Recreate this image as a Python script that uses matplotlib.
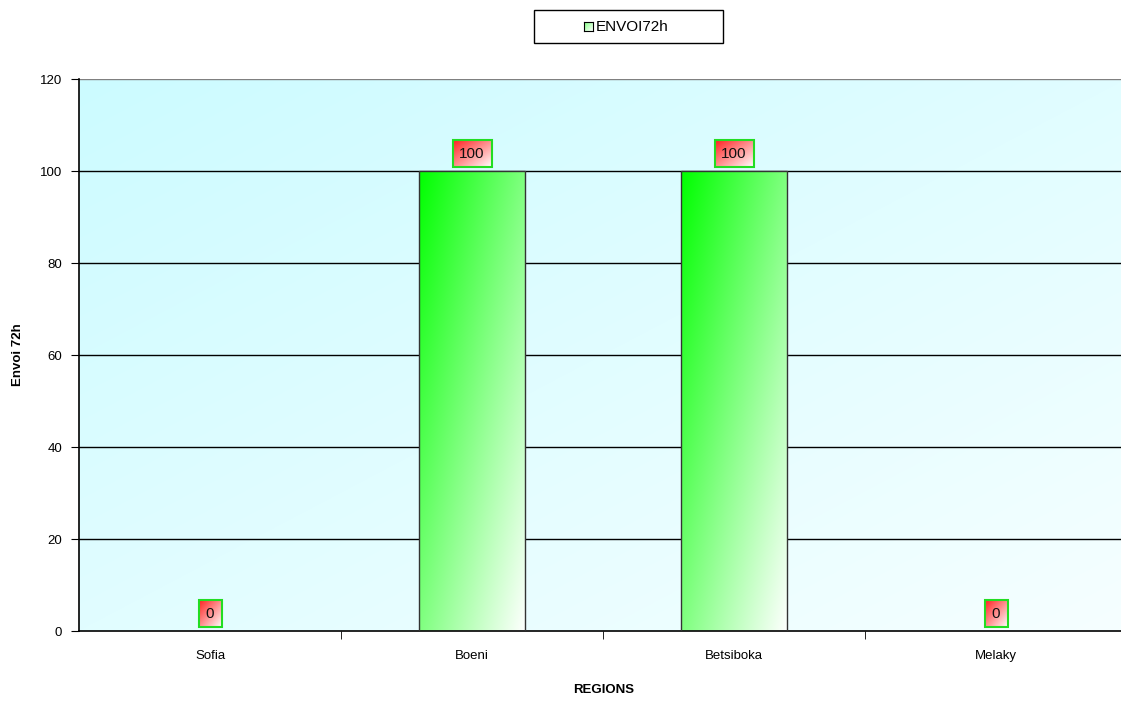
import numpy as np
import matplotlib
matplotlib.use("Agg")
import matplotlib.pyplot as plt
from matplotlib.patches import Rectangle

plt.rcParams['font.family'] = ['Liberation Sans', 'DejaVu Sans']

categories = ["Sofia", "Boeni", "Betsiboka", "Melaky"]
values = [0, 100, 100, 0]
yticks = [0, 20, 40, 60, 80, 100, 120]
series_name = "ENVOI72h"

W, H = 1121, 707
fig = plt.figure(figsize=(W / 100, H / 100), dpi=100)
left, right, top, bottom = 79, 1127, 79, 631
ax = fig.add_axes([left / W, 1 - bottom / H, (right - left) / W, (bottom - top) / H])
ax.set_xlim(-0.5, len(categories) - 0.5)
ax.set_ylim(0, 120)


def diag_grad(c1, c2, n=200):
    c1 = np.array(matplotlib.colors.to_rgb(c1))
    c2 = np.array(matplotlib.colors.to_rgb(c2))
    xx, yy = np.meshgrid(np.linspace(0, 1, n), np.linspace(0, 1, n))
    t = (xx + yy) / 2  # 0 top-left -> 1 bottom-right
    return c1[None, None, :] * (1 - t[..., None]) + c2[None, None, :] * t[..., None]


# background gradient
ax.imshow(diag_grad("#ccfbff", "#f6ffff"), extent=(-0.5, 3.5, 0, 120),
          aspect='auto', origin='upper', zorder=0, interpolation='bilinear')

# gridlines
for y in yticks[1:-1]:
    ax.axhline(y, color='black', lw=1.0, zorder=1)
ax.axhline(120, color='#808080', lw=1.0, zorder=1)

bw = 0.405
for i, v in enumerate(values):
    if v > 0:
        ax.imshow(diag_grad("#00ff00", "#ffffff"), extent=(i - bw / 2, i + bw / 2, 0, v),
                  aspect='auto', origin='upper', zorder=2, interpolation='bilinear')
        ax.add_patch(Rectangle((i - bw / 2, 0), bw, v, fill=False, ec='#333333', lw=1.0, zorder=3))

# value labels
px_x = 4 / (right - left)
px_y = 120 / (bottom - top)
for i, v in enumerate(values):
    txt = str(v)
    wpx = 23 if len(txt) == 1 else 39
    hpx = 27
    x0 = i - wpx / 2 * px_x
    y0 = v + 4 * px_y
    ax.imshow(diag_grad("#ff2020", "#ffffff"), extent=(x0, x0 + wpx * px_x, y0, y0 + hpx * px_y),
              aspect='auto', origin='upper', zorder=4, interpolation='bilinear')
    ax.add_patch(Rectangle((x0, y0), wpx * px_x, hpx * px_y, fill=False, ec='#22dd22', lw=1.5, zorder=5))
    ax.text(i, y0 + hpx * px_y / 2, txt, ha='center', va='center', fontsize=11, color='#111111', zorder=6)

ax.set_xlim(-0.5, len(categories) - 0.5)
ax.set_ylim(0, 120)

ax.set_yticks(yticks)
ax.set_yticklabels([str(t) for t in yticks], fontsize=9.5)
ax.set_xticks(np.arange(len(categories)))
ax.set_xticklabels(categories, fontsize=9.5)
ax.tick_params(axis='x', length=0, pad=14)
ax.set_xticks(np.arange(len(categories) - 1) + 0.5, minor=True)
ax.tick_params(axis='x', which='minor', length=6, direction='out', color='black')
ax.tick_params(axis='y', length=6, direction='out', color='black', pad=6)

for s in ['top', 'right']:
    ax.spines[s].set_visible(False)
ax.spines['left'].set_color('black')
ax.spines['bottom'].set_color('black')
ax.spines['left'].set_linewidth(1.2)
ax.spines['bottom'].set_linewidth(1.2)

fig.text(18 / W, 1 - 355 / H, "Envoi 72h", rotation=90, ha='center', va='center',
         fontsize=9.5, fontweight='bold')
fig.text(604 / W, 1 - 690 / H, "REGIONS", ha='center', va='center',
         fontsize=9.5, fontweight='bold')

# legend box
lx0, lx1, ly0, ly1 = 534, 723, 10, 43
fig.patches.append(Rectangle((lx0 / W, 1 - ly1 / H), (lx1 - lx0) / W, (ly1 - ly0) / H,
                             transform=fig.transFigure, fill=True, fc='white', ec='black', lw=1.0,
                             zorder=1))
lax = fig.add_axes([584 / W, 1 - 31 / H, 9 / W, 9 / H])
lax.set_zorder(5)
lax.imshow(diag_grad("#80ff80", "#ffffff"), extent=(0, 1, 0, 1), aspect='auto', origin='upper')
lax.set_xticks([]); lax.set_yticks([])
for s in lax.spines.values():
    s.set_color('black'); s.set_linewidth(0.8)
fig.text(596 / W, 1 - 27 / H, series_name, ha='left', va='center', fontsize=11)

fig.savefig("out.png", dpi=100)
